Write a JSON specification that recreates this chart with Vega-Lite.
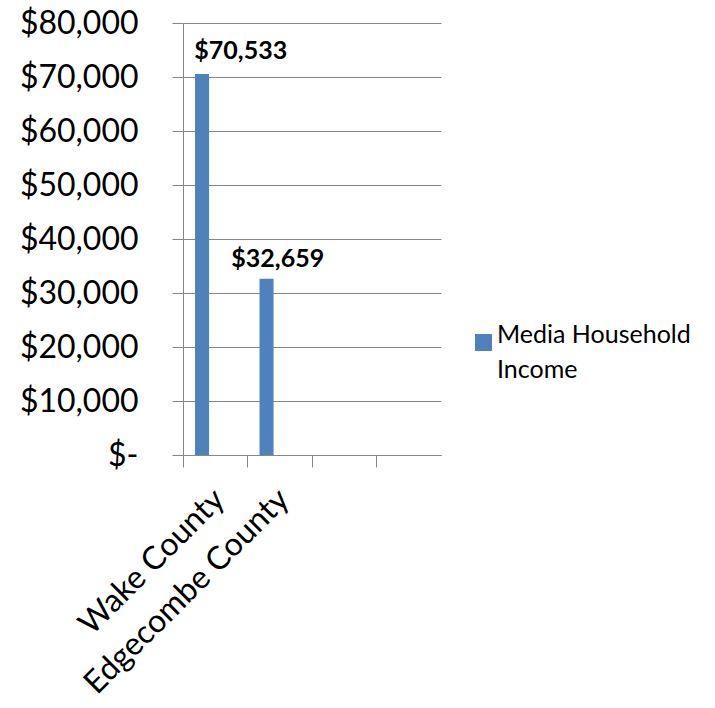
{
  "$schema": "https://vega.github.io/schema/vega-lite/v6.json",
  "width": 258,
  "height": 432,
  "autosize": "none",
  "padding": {"left": 183, "top": 23, "right": 274, "bottom": 253},
  "background": "white",
  "config": {
    "view": {"stroke": null},
    "style": {"guide-label": {"lineHeight": 35}}
  },
  "data": {
    "values": [
      {"county": "Wake County", "series": "Media Household Income", "income": 70533},
      {"county": "Edgecombe County", "series": "Media Household Income", "income": 32659}
    ]
  },
  "encoding": {
    "x": {
      "field": "county",
      "type": "nominal",
      "sort": null,
      "scale": {"domain": ["Wake County", "Edgecombe County", "_3", "_4"], "paddingInner": 0, "paddingOuter": 0},
      "axis": {
        "title": null,
        "bandPosition": 0,
        "labelAngle": -45,
        "labelAlign": "right",
        "labelBaseline": "middle",
        "labelExpr": "indexof(datum.value, '_') === 0 ? '' : datum.value",
        "labelFont": "Lato",
        "labelFontSize": 32,
        "labelColor": "#000000",
        "labelPadding": 27,
        "labelOffset": 4,
        "labelLimit": 400,
        "tickSize": 12,
        "tickColor": "#868686",
        "domainColor": "#868686",
        "grid": false
      }
    },
    "y": {
      "field": "income",
      "type": "quantitative",
      "scale": {"domain": [0, 80000]},
      "axis": {
        "title": null,
        "values": [0, 10000, 20000, 30000, 40000, 50000, 60000, 70000, 80000],
        "labelExpr": "datum.value === 0 ? '$-' : '$' + format(datum.value, ',')",
        "labelFont": "Lato",
        "labelFontSize": 32,
        "labelColor": "#000000",
        "labelPadding": 34,
        "tickSize": 11,
        "tickColor": "#868686",
        "domainColor": "#868686",
        "gridColor": "#868686",
        "grid": true
      }
    }
  },
  "layer": [
    {
      "mark": {"type": "bar", "width": 14},
      "encoding": {
        "xOffset": {
          "field": "series",
          "type": "nominal",
          "scale": {"domain": ["Media Household Income", "_pad"], "paddingInner": 0, "paddingOuter": 0.22}
        },
        "color": {
          "field": "series",
          "type": "nominal",
          "scale": {"range": ["#4F81BD"]},
          "legend": {
            "title": null,
            "orient": "none",
            "legendX": 288,
            "legendY": 307,
            "symbolType": "square",
            "symbolSize": 289,
            "symbolStrokeWidth": 0,
            "labelFont": "Lato",
            "labelFontSize": 25,
            "labelColor": "#000000",
            "labelExpr": "['Media Household', 'Income']",
            "labelBaseline": "alphabetic",
            "labelOffset": 1,
            "labelLimit": 400
          }
        }
      }
    },
    {
      "transform": [{"filter": "datum.county === 'Wake County'"}],
      "mark": {"type": "text", "dx": 25.5, "dy": -23, "fontWeight": "bold", "font": "Lato", "fontSize": 25, "baseline": "middle", "color": "#000000"},
      "encoding": {"text": {"field": "income", "type": "quantitative", "format": "$,"}}
    },
    {
      "transform": [{"filter": "datum.county === 'Edgecombe County'"}],
      "mark": {"type": "text", "dx": -2, "dy": -20, "fontWeight": "bold", "font": "Lato", "fontSize": 25, "baseline": "middle", "color": "#000000"},
      "encoding": {"text": {"field": "income", "type": "quantitative", "format": "$,"}}
    }
  ]
}
